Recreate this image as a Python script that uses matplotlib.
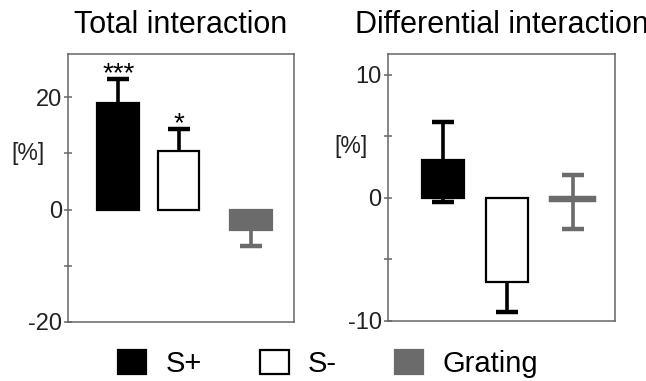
import matplotlib
matplotlib.use("Agg")
import matplotlib.pyplot as plt
from matplotlib.patches import Patch

plt.rcParams['font.family'] = ['Liberation Sans', 'DejaVu Sans']

categories = ['S+', 'S-', 'Grating']
colors = ['#000000', '#ffffff', '#6b6b6b']
edges = ['#000000', '#000000', '#6b6b6b']

# Total interaction (%)
total_mean = [19.0, 10.5, -3.7]
total_err_lo = [0.0, 0.0, 2.8]
total_err_hi = [4.3, 3.9, 0.0]
total_stars = ['***', '*', '']

# Differential interaction (%)
diff_mean = [3.1, -6.8, -0.2]
diff_err_lo = [3.4, 2.5, 2.3]
diff_err_hi = [3.1, 0.0, 2.1]


def draw_panel(ax, pos, mean, lo, hi, width, title, lws):
    for x, m, l, h, c, e, lw in zip(pos, mean, lo, hi, colors, edges, lws):
        ax.bar(x, m, width=width, color=c, edgecolor=e, linewidth=lw, zorder=3)
        for end in (m - l, m + h):
            if end != m:
                ax.plot([x, x], [m, end], color=e, lw=2.6, zorder=2,
                        solid_capstyle='butt')
                ax.plot([x], [end], marker='_', ms=16, mew=3.2, color=e, zorder=2)
    ax.set_title(title, fontsize=22, pad=15)
    ax.set_xticks([])
    for s in ax.spines.values():
        s.set_color('#666666')
        s.set_linewidth(1.1)
    ax.tick_params(axis='y', direction='inout', length=6, width=1.1,
                   color='#666666', labelsize=17, labelcolor='#222222', pad=1.5)


fig = plt.figure(figsize=(6.46, 3.81), dpi=100)

ax1 = fig.add_axes([0.1053, 0.1549, 0.3498, 0.7034])
pos1 = [1.0, 2.0, 3.2]
draw_panel(ax1, pos1, total_mean, total_err_lo, total_err_hi, 0.69,
           'Total interaction', [1.6, 1.6, 1.6])
ax1.set_xlim(0.17, 3.91)
ax1.set_ylim(-20, 27.7)
ax1.set_yticks([-20, -10, 0, 10, 20])
ax1.set_yticklabels(['-20', '', '0', '', '20'])
for x, m, h, s in zip(pos1, total_mean, total_err_hi, total_stars):
    if s:
        ax1.text(x, m + h - 0.4, s, ha='center', va='baseline', fontsize=20)
ax1.text(-0.175, 0.627, '[%]', transform=ax1.transAxes, ha='center',
         va='center', fontsize=16.5, color='#222222')

ax2 = fig.add_axes([0.6006, 0.1575, 0.3514, 0.7008])
pos2 = [1.0, 2.0, 3.03]
draw_panel(ax2, pos2, diff_mean, diff_err_lo, diff_err_hi, 0.67,
           'Differential interaction', [1.6, 1.6, 3.2])
ax2.set_xlim(0.14, 3.69)
ax2.set_ylim(-10, 11.7)
ax2.set_yticks([-10, -5, 0, 5, 10])
ax2.set_yticklabels(['-10', '', '0', '', '10'])
ax2.text(-0.165, 0.652, '[%]', transform=ax2.transAxes, ha='center',
         va='center', fontsize=16.5, color='#222222')

handles = [Patch(facecolor=c, edgecolor='#000000' if c == '#ffffff' else c,
                 linewidth=1.6, label=lab)
           for c, lab in zip(colors, categories)]
fig.legend(handles=handles, loc='center', bbox_to_anchor=(0.508, 0.045),
           ncol=3, frameon=False, fontsize=21, handlelength=0.97,
           handleheight=0.9, handletextpad=0.66, columnspacing=2.0,
           borderpad=0.1)

fig.savefig('out.png', dpi=100)
